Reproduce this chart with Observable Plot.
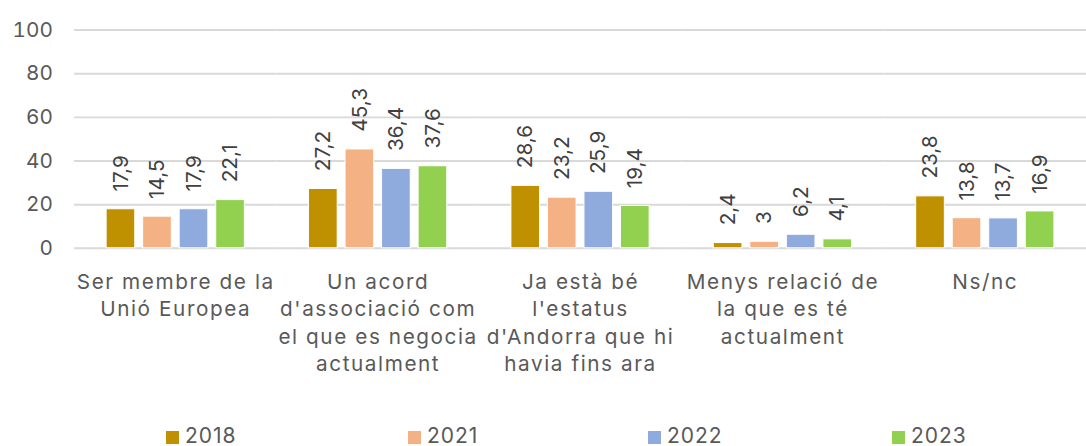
<!DOCTYPE html>
<html>
<head>
<meta charset="utf-8">
<script src="https://cdn.jsdelivr.net/npm/d3@7"></script>
<script src="https://cdn.jsdelivr.net/npm/@observablehq/plot@0.6"></script>
<style>
  html, body { margin: 0; padding: 0; background: #fff; overflow: hidden; width: 1086px; height: 446px; }
  #chart svg { display: block; }
  #chart g[aria-label="fx-axis tick label"] text { letter-spacing: 1.6px; }
  #legend { position: relative; height: 30px; font-family: Inter, sans-serif; font-size: 21px; color: #595959; letter-spacing: 1px; }
  .item { position: absolute; top: 14px; display: flex; align-items: center; line-height: 22px; }
  .sw { width: 13px; height: 13px; margin-right: 6px; margin-top: 3px; }
</style>
</head>
<body>
<div id="chart"></div>
<div id="legend"></div>
<script>
const categories = [
  "Ser membre de la Unió Europea",
  "Un acord d'associació com el que es negocia actualment",
  "Ja està bé l'estatus d'Andorra que hi havia fins ara",
  "Menys relació de la que es té actualment",
  "Ns/nc"
];
const categoryLines = [
  "Ser membre de la\nUnió Europea",
  "Un acord\nd'associació com\nel que es negocia\nactualment",
  "Ja està bé\nl'estatus\nd'Andorra que hi\nhavia fins ara",
  "Menys relació de\nla que es té\nactualment",
  "Ns/nc"
];
const years = ["2018", "2021", "2022", "2023"];
const v2018 = [17.9, 27.2, 28.6, 2.4, 23.8];
const v2021 = [14.5, 45.3, 23.2, 3, 13.8];
const v2022 = [17.9, 36.4, 25.9, 6.2, 13.7];
const v2023 = [22.1, 37.6, 19.4, 4.1, 16.9];
const yTicks = [0, 20, 40, 60, 80, 100];
const colors = ["#BF9000", "#F4B183", "#8FAADC", "#92D050"];

const series = [v2018, v2021, v2022, v2023];
const data = [];
categories.forEach((c, i) => {
  years.forEach((y, j) => {
    data.push({category: c, year: y, value: series[j][i]});
  });
});
const labelOf = new Map(categories.map((c, i) => [c, categoryLines[i]]));
const fmt = v => String(v).replace(".", ",");

const FS = 21;
const chart = Plot.plot({
  width: 1100,
  height: 416,
  marginLeft: 74.5,
  marginRight: 0.5,
  marginTop: 30,
  marginBottom: 165,
  style: {fontFamily: "Inter, sans-serif", fontSize: FS + "px", color: "#595959", background: "#fff"},
  fx: {domain: categories, padding: 0, label: null},
  x: {domain: years, paddingInner: 0.22, paddingOuter: 0.88, axis: null},
  y: {domain: [0, 100], range: [251, 30], label: null},
  color: {domain: years, range: colors},
  marks: [
    Plot.gridY(yTicks, {stroke: "#d9d9d9", strokeOpacity: 1, strokeWidth: 2}),
    Plot.axisY(yTicks, {tickSize: 0, tickPadding: 22, fill: "#595959", fontSize: FS, label: null}),
    Plot.axisFx({anchor: "bottom", tickSize: 0, tickPadding: 21, fill: "#595959", fontSize: FS, lineHeight: 1.33, lineAnchor: "top", tickFormat: d => labelOf.get(d), label: null}),
    Plot.barY(data, {fx: "category", x: "year", y: "value", fill: "year", stroke: "#fff", strokeWidth: 1}),
    Plot.text(data, {fx: "category", x: "year", y: "value", text: d => fmt(d.value), rotate: -90, textAnchor: "start", lineAnchor: "middle", dy: -18, fill: "#404040", fontSize: FS})
  ]
});
document.getElementById("chart").appendChild(chart);

const legend = document.getElementById("legend");
const legendLeft = [166, 408, 648, 892];
years.forEach((y, i) => {
  const item = document.createElement("div");
  item.className = "item";
  item.style.left = legendLeft[i] + "px";
  const sw = document.createElement("div");
  sw.className = "sw";
  sw.style.background = colors[i];
  const t = document.createElement("span");
  t.textContent = y;
  item.appendChild(sw);
  item.appendChild(t);
  legend.appendChild(item);
});
</script>
</body>
</html>
